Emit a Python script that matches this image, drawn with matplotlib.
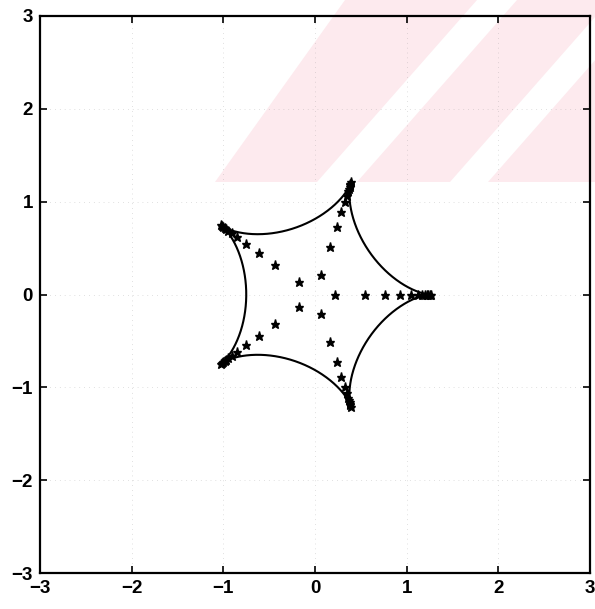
import numpy as np
import matplotlib
matplotlib.use("Agg")
import matplotlib.pyplot as plt
from matplotlib.patches import Polygon

# ---- data ----
# hypocycloid boundary (5 cusps): outer radius and rolling-circle radius
cusp_radius = 1.25
roll_radius = 0.25
n_cusps = 5
# radii of the starred points along each cusp ray
ray_radii = [0.22, 0.54, 0.76, 0.93, 1.05, 1.12, 1.17, 1.20, 1.22, 1.235, 1.25, 1.27]
ray_angles_deg = [0, 72, 144, 216, 288]
ticks = [-3, -2, -1, 0, 1, 2, 3]
tick_labels = ["\u22123", "\u22122", "\u22121", "0", "1", "2", "3"]

# ---- figure ----
W, H = 595, 609
fig = plt.figure(figsize=(W / 100, H / 100), dpi=100)
fig.patch.set_facecolor("white")

# scan watermark (pink band with white diagonal stripes), figure pixel coords
def px(x, y):
    return (x / W, 1 - y / H)

pink = "#fdeaee"
band = Polygon([px(215, 182), px(345, 0), px(595, 0), px(595, 182)],
               closed=True, transform=fig.transFigure, facecolor=pink,
               edgecolor="none", zorder=-2)
fig.add_artist(band)
for (b0, b1) in [(317, 357), (450, 488)]:
    d = 160
    stripe = Polygon([px(b0, 182), px(b0 + d, 0), px(b1 + d, 0), px(b1, 182)],
                     closed=True, transform=fig.transFigure, facecolor="white",
                     edgecolor="none", zorder=-1)
    fig.add_artist(stripe)

ax = fig.add_axes([40 / W, (H - 573) / H, 550 / W, 557 / H])
ax.patch.set_alpha(0)

# boundary curve
t = np.linspace(0, 2 * np.pi, 2000)
Rr = cusp_radius - roll_radius
k = Rr / roll_radius
xc = Rr * np.cos(t) + roll_radius * np.cos(k * t)
yc = Rr * np.sin(t) - roll_radius * np.sin(k * t)
ax.plot(xc, yc, color="black", lw=1.5, zorder=3)

# starred points along rays
rr = np.array(ray_radii)
for a in ray_angles_deg:
    th = np.deg2rad(a)
    ax.plot(rr * np.cos(th), rr * np.sin(th), linestyle="none", marker="*",
            ms=6.5, color="black", zorder=4)

ax.set_xlim(-3, 3)
ax.set_ylim(-3, 3)
ax.set_xticks(ticks)
ax.set_yticks(ticks)
ax.set_xticklabels(tick_labels)
ax.set_yticklabels(tick_labels)
ax.tick_params(direction="in", length=5, width=1.2, top=True, right=True,
               labelsize=13.5, pad=5, colors="black")
for lab in ax.get_xticklabels() + ax.get_yticklabels():
    lab.set_fontfamily("Liberation Sans")
    lab.set_fontweight("bold")
for sp in ax.spines.values():
    sp.set_linewidth(1.6)
ax.grid(True, color="#888888", linestyle=(0, (1, 6)), linewidth=0.5, alpha=0.5)

fig.savefig("out.png", dpi=100)
